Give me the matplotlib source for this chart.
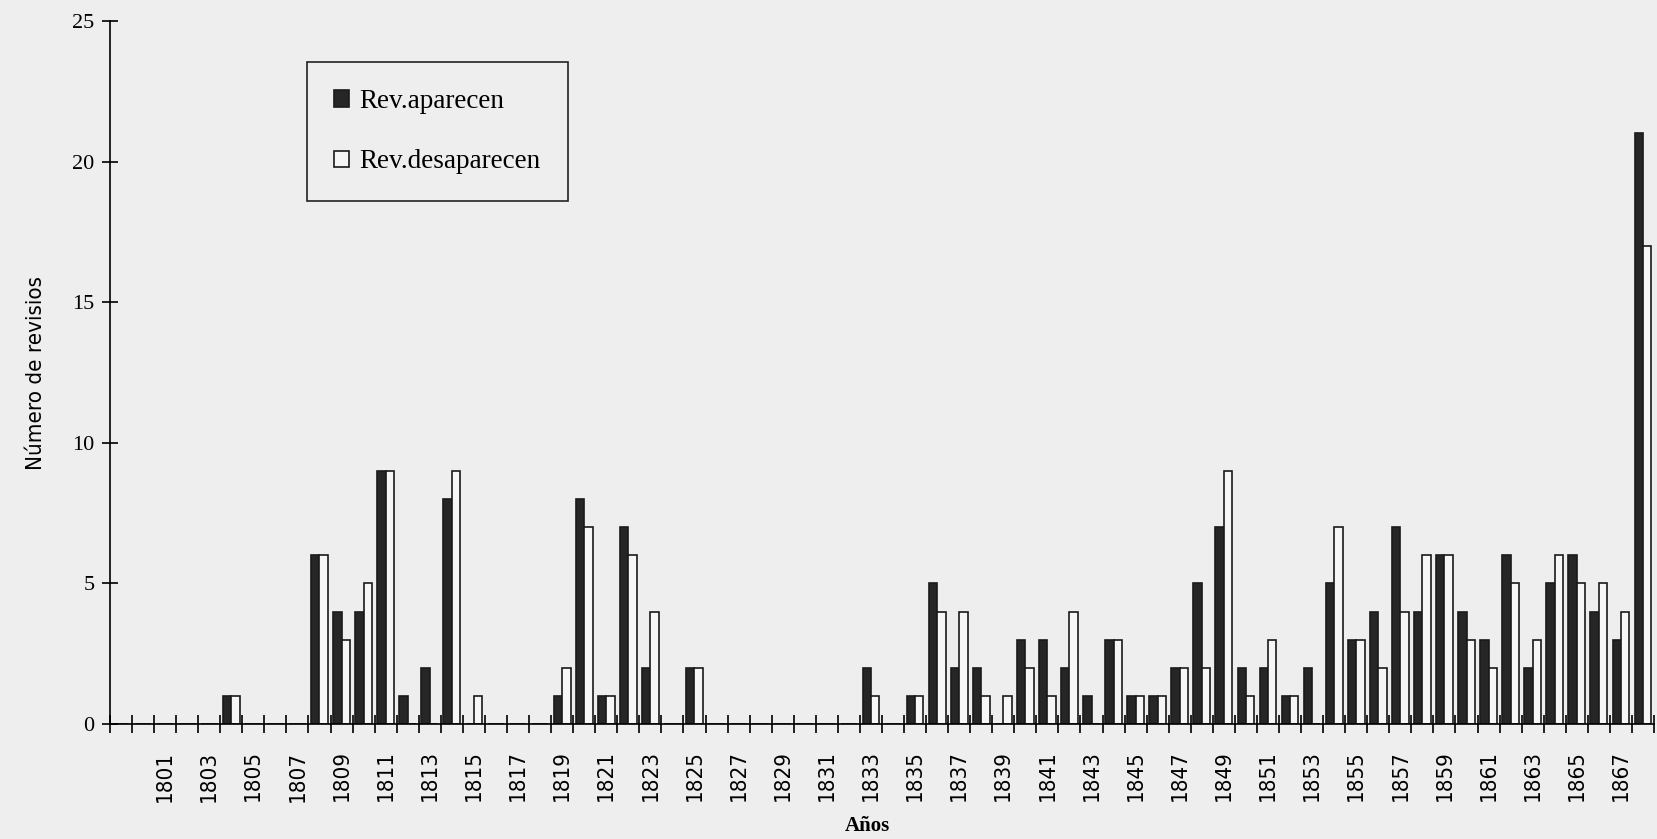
import numpy as np
import matplotlib.pyplot as plt

years = list(range(1799, 1869))
# values by year, 1799..1868
aparecen = [0, 0, 0, 0, 0, 1, 0, 0, 0, 6,   # 1799-1808
            4, 4, 9, 1, 2, 8, 0, 0, 0, 0,   # 1809-1818
            1, 8, 1, 7, 2, 0, 2, 0, 0, 0,   # 1819-1828
            0, 0, 0, 0, 2, 0, 1, 5, 2, 2,   # 1829-1838
            0, 3, 3, 2, 1, 3, 1, 1, 2, 5,   # 1839-1848
            7, 2, 2, 1, 2, 5, 3, 4, 7, 4,   # 1849-1858
            6, 4, 3, 6, 2, 5, 6, 4, 3, 21]  # 1859-1868
desaparecen = [0, 0, 0, 0, 0, 1, 0, 0, 0, 6,
               3, 5, 9, 0, 0, 9, 1, 0, 0, 0,
               2, 7, 1, 6, 4, 0, 2, 0, 0, 0,
               0, 0, 0, 0, 1, 0, 1, 4, 4, 1,
               1, 2, 1, 4, 0, 3, 1, 1, 2, 2,
               9, 1, 3, 1, 0, 7, 3, 2, 4, 6,
               6, 3, 2, 5, 3, 6, 5, 5, 4, 17]
tick_years = list(range(1801, 1868, 2))

bg = '#eeeeee'
fig = plt.figure(figsize=(16.58, 8.39), dpi=100, facecolor=bg)
ax = fig.add_axes([0.0663, 0.137, 0.9313, 0.838])
ax.set_facecolor(bg)

x = np.array(years)
w = 0.38
ax.bar(x - w / 2, aparecen, w, color='#262626', edgecolor='#1a1a1a', linewidth=1.2,
       label='Rev.aparecen')
ax.bar(x + w / 2, desaparecen, w, color='#f6f6f6', edgecolor='#1a1a1a', linewidth=1.2,
       label='Rev.desaparecen')

ax.set_xlim(1798.5, 1868.5)
ax.set_ylim(0, 25)
for s in ['top', 'right']:
    ax.spines[s].set_visible(False)
ax.spines['left'].set_linewidth(1.2)
ax.spines['bottom'].set_linewidth(1.2)

ax.set_yticks([0, 5, 10, 15, 20, 25])
ax.tick_params(axis='y', direction='inout', length=12, width=1.2, pad=5,
               labelsize=16, labelfontfamily='Liberation Serif')

# boundary ticks without labels, year labels on minor ticks
ax.set_xticks(np.arange(1798.5, 1869, 1))
ax.set_xticklabels([])
ax.tick_params(axis='x', which='major', direction='inout', length=13, width=1.2)
ax.set_xticks(tick_years, [str(y) for y in tick_years], minor=True)
ax.tick_params(axis='x', which='minor', length=0, pad=19, labelsize=16, labelrotation=90)
for lbl in ax.get_xticklabels(minor=True):
    lbl.set_family('DejaVu Sans')
    lbl.set_fontstretch('condensed')

fig.text(0.0215, 0.555, 'Número de revisios', rotation=90, ha='center', va='center',
         fontsize=16, family='DejaVu Sans', fontstretch='condensed')
fig.text(0.523, 0.004, 'Años', ha='center', va='bottom', fontsize=15,
         fontweight='bold', family='Liberation Serif')

leg = ax.legend(loc='upper left', bbox_to_anchor=(0.185, 0.926), bbox_transform=fig.transFigure,
                borderaxespad=0, fancybox=False, edgecolor='#222222', facecolor=bg,
                framealpha=1, prop={'family': 'Liberation Serif', 'size': 19.5},
                handlelength=0.55, handleheight=0.55, handletextpad=0.4,
                labelspacing=1.3, borderpad=1.0)
leg.get_frame().set_linewidth(1.2)

fig.savefig('out.png', dpi=100, facecolor=bg)
